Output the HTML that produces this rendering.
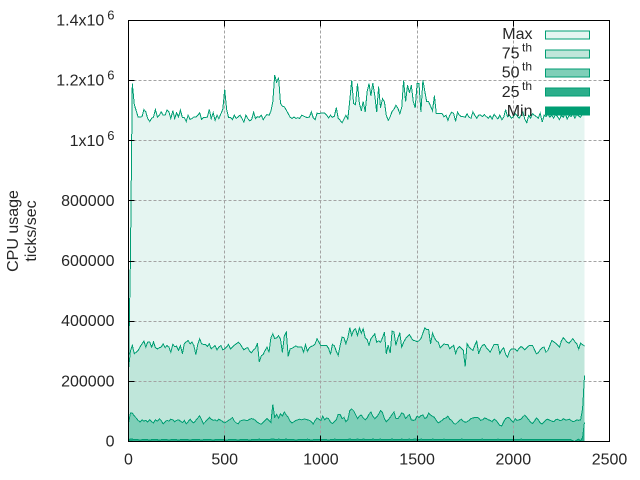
<!DOCTYPE html>
<html>
<head>
<meta charset="utf-8">
<title>CPU usage chart</title>
<style>
html,body{margin:0;padding:0;background:#fff;width:640px;height:480px;overflow:hidden}
svg{display:block}
text{font-family:"Liberation Sans",sans-serif;font-size:16px;fill:#262626}
</style>
</head>
<body>
<svg id="chart" width="640" height="480" viewBox="0 0 640 480" xmlns="http://www.w3.org/2000/svg">
<rect width="640" height="480" fill="#fff"/>
<g id="fills"></g>
<g id="grid"></g>
<g id="lines"></g>
<g id="ticks"></g>
<rect x="128.5" y="20.5" width="481" height="421" fill="none" stroke="#000" stroke-width="1" shape-rendering="crispEdges"/>
<g id="tick-labels"></g>
<g id="legend"></g>
<text transform="translate(18,231) rotate(-90)" text-anchor="middle">CPU usage</text>
<text transform="translate(36,231) rotate(-90)" text-anchor="middle">ticks/sec</text>
</svg>
<script>
const sampleStep = 10;
const xTicks = [0, 500, 1000, 1500, 2000, 2500];
const xTickLabels = ["0", "500", "1000", "1500", "2000", "2500"];
const yTicks = [0, 200000, 400000, 600000, 800000, 1000000, 1200000, 1400000];
const yTickLabels = ["0", "200000", "400000", "600000", "800000", "1x10|6", "1.2x10|6", "1.4x10|6"];
const seriesNames = ["Max", "75|th", "50|th", "25|th", "Min"];

const maxValues = [
240,600,1190,1120,1100,1079,1079,1080,1104,1096,
1074,1064,1074,1079,1104,1079,1085,1096,1085,1085,
1102,1096,1074,1100,1074,1093,1079,1102,1077,1077,
1064,1085,1071,1074,1079,1079,1085,1093,1071,1077,
1077,1079,1104,1074,1093,1068,1085,1074,1090,1105,
1170,1105,1078,1078,1070,1085,1074,1080,1085,1074,
1062,1085,1074,1066,1070,1095,1074,1080,1078,1085,
1070,1080,1087,1085,1098,1130,1218,1195,1210,1124,
1115,1113,1102,1090,1079,1074,1079,1074,1077,1074,
1085,1082,1079,1077,1079,1096,1077,1070,1092,1090,
1092,1092,1092,1085,1076,1085,1078,1082,1110,1075,
1068,1060,1072,1085,1072,1135,1201,1124,1120,1190,
1124,1100,1130,1096,1163,1190,1150,1192,1150,1095,
1180,1110,1140,1130,1085,1068,1080,1098,1105,1118,
1108,1090,1110,1201,1130,1185,1160,1185,1130,1110,
1190,1190,1095,1201,1165,1130,1130,1115,1100,1150,
1090,1090,1090,1090,1080,1085,1068,1085,1095,1090,
1065,1095,1085,1080,1080,1078,1090,1078,1075,1096,
1085,1075,1085,1085,1080,1087,1080,1075,1083,1072,
1088,1080,1073,1085,1070,1078,1104,1080,1085,1075,
1080,1090,1083,1075,1085,1095,1072,1060,1085,1075,
1090,1085,1080,1075,1092,1062,1085,1080,1090,1078,
1085,1075,1088,1080,1070,1085,1078,1092,1072,1085,
1080,1090,1075,1088,1082,1078,1090,1085];

const p75Values = [
240,300,320,292,297,303,314,325,334,314,
331,331,314,331,312,308,312,314,325,312,
319,314,297,323,316,317,303,319,292,325,
331,336,325,331,319,289,323,342,325,323,
323,316,325,308,314,319,305,314,319,305,
308,314,323,308,314,320,325,330,325,314,
305,310,312,300,295,305,310,327,265,285,
290,303,314,297,345,358,342,345,352,340,
297,350,364,283,308,310,314,318,314,314,
314,297,323,300,312,316,319,325,342,330,
319,319,319,319,310,290,323,318,300,286,
319,347,345,325,345,378,352,370,375,352,
378,360,375,345,340,320,342,350,358,330,
335,330,345,364,292,320,294,367,364,320,
345,360,314,330,342,350,356,345,336,335,
332,335,342,360,378,372,372,325,360,345,
335,330,312,318,325,322,323,308,315,320,
292,310,316,310,303,250,325,315,308,303,
320,334,292,310,320,323,312,305,297,310,
323,323,323,292,305,312,290,281,300,308,
308,308,300,310,316,312,305,312,318,320,
320,305,292,295,305,312,314,297,303,320,
336,332,327,320,314,335,345,338,330,327,
335,342,332,325,308,327,322,318];

const p50Values = [
60,94,94,85,78,70,65,72,68,70,
65,72,66,62,72,68,75,70,59,66,
70,68,74,72,66,70,72,68,63,70,
59,66,74,66,62,70,78,85,72,59,
66,72,80,74,70,72,68,74,70,66,
62,66,70,74,80,68,62,59,68,70,
72,70,70,74,76,74,70,64,60,58,
64,70,76,70,64,123,80,90,78,92,
85,98,88,80,68,62,66,70,72,74,
72,74,74,72,70,66,58,70,78,74,
70,84,72,78,76,64,60,66,72,90,
90,76,80,66,72,103,108,102,90,76,
84,88,78,72,78,90,98,84,76,82,
90,103,96,76,66,72,80,90,98,76,
76,84,95,92,76,84,90,72,70,72,
84,80,86,88,76,80,94,88,84,80,
70,62,66,70,76,78,84,74,70,60,
58,64,70,74,68,64,66,70,76,78,
80,80,78,70,72,78,76,72,70,66,
74,70,62,54,52,66,76,80,78,70,
64,76,70,72,74,82,88,80,72,64,
60,68,78,72,62,58,66,72,74,70,
68,66,72,74,70,70,76,72,72,74,
70,66,68,72,70,72,109,219];

const p25Values = [
4,9,8,6,7,6,5,6,7,6,
6,5,6,7,6,6,5,6,6,7,
6,5,6,6,7,6,5,6,6,6,
7,6,5,6,6,7,6,6,5,6,
6,6,7,6,5,6,6,6,7,6,
6,5,6,6,7,6,6,5,6,6,
6,7,6,5,6,6,6,7,8,6,
6,7,6,6,8,9,7,6,8,7,
6,7,8,6,6,7,6,5,6,6,
6,7,6,8,6,5,6,6,7,6,
6,6,7,6,5,6,6,8,7,6,
6,7,6,6,7,8,7,6,7,8,
7,6,8,7,6,7,6,8,7,6,
7,8,6,7,6,6,7,8,7,6,
7,6,8,7,6,7,8,6,7,9,
7,6,8,7,6,7,6,6,8,7,
6,6,7,6,8,6,6,7,6,6,
7,6,6,8,7,6,6,7,6,6,
7,6,6,7,8,6,6,7,6,6,
7,6,8,6,6,7,6,6,7,6,
6,7,6,6,8,7,6,6,7,6,
6,7,6,6,7,6,6,7,6,6,
7,6,6,7,6,6,7,6,6,7,
6,2,0,5,8,2,14,64];

const minValues = [
0,2,1,0,0,0,0,0,0,0,
0,0,0,0,0,0,0,0,0,0,
0,0,0,0,0,0,0,0,0,0,
0,0,0,0,0,0,0,0,0,0,
0,0,0,0,0,0,0,0,0,0,
0,0,0,0,0,0,0,0,0,0,
0,0,0,0,0,0,0,0,0,0,
0,0,0,0,0,0,0,0,0,0,
0,0,0,0,0,0,0,0,0,0,
0,0,0,0,0,0,0,0,0,0,
0,0,0,0,0,0,0,0,0,0,
0,0,0,0,0,0,0,0,0,0,
0,0,0,0,0,0,0,0,0,0,
0,0,0,0,0,0,0,0,0,0,
0,0,0,0,0,0,0,0,0,0,
0,0,0,0,0,0,0,0,0,0,
0,0,0,0,0,0,0,0,0,0,
0,0,0,0,0,0,0,0,0,0,
0,0,0,0,0,0,0,0,0,0,
0,0,0,0,0,0,0,0,0,0,
0,0,0,0,0,0,0,0,0,0,
0,0,0,0,0,0,0,0,0,0,
0,0,0,0,0,0,0,0,0,0,
0,0,0,0,0,0,0,0];

const seriesData = [maxValues, p75Values, p50Values, p25Values, minValues];
const seriesFills = ["#e5f5f1", "#bfe6da", "#7fcfb8", "#2cae8b", "#009e73"];
const lineColor = "#009e73";
const NS = "http://www.w3.org/2000/svg";

function xScale(v) { return 128.5 + v * (481 / 2500); }
function yScale(v) { return 441.5 - v * (421 / 1400000); }
function make(tag, attrs, parent) {
  const el = document.createElementNS(NS, tag);
  for (const k in attrs) el.setAttribute(k, attrs[k]);
  parent.appendChild(el);
  return el;
}
function pointsOf(values) {
  return values.map(function (v, i) {
    return xScale(i * sampleStep).toFixed(1) + "," + yScale(v * 1000).toFixed(1);
  });
}

const fillsG = document.getElementById("fills");
const linesG = document.getElementById("lines");
const gridG = document.getElementById("grid");
const ticksG = document.getElementById("ticks");
const labelsG = document.getElementById("tick-labels");
const legendG = document.getElementById("legend");

seriesData.forEach(function (values, s) {
  const pts = pointsOf(values);
  const x0 = xScale(0).toFixed(1);
  const x1 = xScale((values.length - 1) * sampleStep).toFixed(1);
  const y0 = yScale(0).toFixed(1);
  const area = make("polygon", { points: x0 + "," + y0 + " " + pts.join(" ") + " " + x1 + "," + y0, fill: seriesFills[s] }, fillsG);
  
  
});

xTicks.forEach(function (v, i) {
  const x = Math.floor(xScale(v)) + 0.5;
  if (i > 0 && i < xTicks.length - 1) {
    const g = make("line", { x1: x, x2: x, y1: 20.5, y2: 441.5, stroke: "#a3a3a3", "stroke-width": 1, "stroke-dasharray": "3,2", "shape-rendering": "crispEdges" }, gridG);
    
    
  }
  const t1 = make("line", { x1: x, x2: x, y1: 441.5, y2: 435.5, stroke: "#000", "shape-rendering": "crispEdges" }, ticksG);
  
  
  const t2 = make("line", { x1: x, x2: x, y1: 20.5, y2: 26.5, stroke: "#000", "shape-rendering": "crispEdges" }, ticksG);
  
  
  const lab = make("text", { x: xScale(v), y: 464.5, "text-anchor": "middle" }, labelsG);
  
  
  lab.textContent = xTickLabels[i];
});

yTicks.forEach(function (v, i) {
  const y = Math.floor(yScale(v)) + 0.5;
  if (i > 0 && i < yTicks.length - 1) {
    const g = make("line", { x1: 128.5, x2: 609.5, y1: y, y2: y, stroke: "#a3a3a3", "stroke-width": 1, "stroke-dasharray": "3,2", "shape-rendering": "crispEdges" }, gridG);
    
    
  }
  const t1 = make("line", { x1: 128.5, x2: 134.5, y1: y, y2: y, stroke: "#000", "shape-rendering": "crispEdges" }, ticksG);
  
  
  const t2 = make("line", { x1: 609.5, x2: 603.5, y1: y, y2: y, stroke: "#000", "shape-rendering": "crispEdges" }, ticksG);
  
  
  const parts = yTickLabels[i].split("|");
  const lab = make("text", { x: 114.5, y: yScale(v) + 5, "text-anchor": "end" }, labelsG);
  
  
  lab.textContent = parts[0];
  if (parts[1]) {
    const sup = make("tspan", { dx: 3, dy: -6, style: "font-size:13px" }, lab);
    
    
    sup.textContent = parts[1];
  }
});

seriesData.forEach(function (values) {
  const line = make("polyline", { points: pointsOf(values).join(" "), fill: "none", stroke: lineColor, "stroke-width": 1, "shape-rendering": "crispEdges" }, linesG);
  
  
});

seriesNames.forEach(function (name, i) {
  const swatchY = 34.5 + i * 19;
  const baseY = 39 + i * 19.3;
  const parts = name.split("|");
  const lab = make("text", { x: parts[1] ? 519.5 : 532.5, y: baseY, "text-anchor": "end" }, legendG);
  
  
  lab.textContent = parts[0];
  if (parts[1]) {
    const sup = make("text", { x: 522, y: baseY - 7, style: "font-size:12px" }, legendG);
    
    
    sup.textContent = parts[1];
  }
  const key = make("rect", { x: 545.5, y: swatchY - 3.5, width: 44, height: 8, fill: seriesFills[i], stroke: lineColor, "stroke-width": 1, "shape-rendering": "crispEdges" }, legendG);
  
  
});
</script>
</body>
</html>
